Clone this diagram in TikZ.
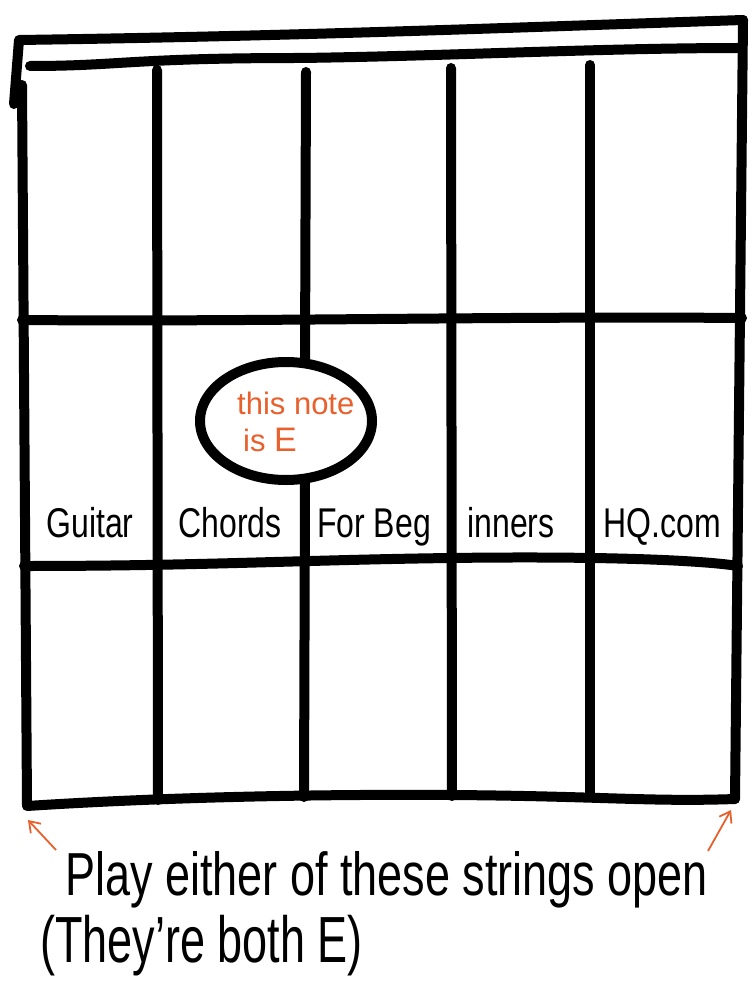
\documentclass[tikz,border=0pt]{standalone}
\usepackage{fontspec}
\setmainfont{Liberation Sans}
\usetikzlibrary{arrows.meta,shapes.geometric}
\definecolor{inkorange}{RGB}{232,96,44}
\tikzset{
  ink/.style={line width=10pt, line cap=round, line join=round, black},
  lbl/.style={font=\fontsize{32}{34}\selectfont, inner sep=0pt, anchor=base},
  note/.style={font=\fontsize{31}{33}\selectfont, text=inkorange, inner sep=0pt, anchor=base west},
  captext/.style={font=\fontsize{45}{48}\selectfont, inner sep=0pt, anchor=base west},
  pointer/.style={inkorange, line width=1.8pt, -{Straight Barb[length=10pt,width=14pt]}}
}
\begin{document}
\begin{tikzpicture}[x=1pt,y=-1pt]
\useasboundingbox (0,0) rectangle (752,981);
% nut
\draw[ink] (14,104) -- (19,40) .. controls (300,36) and (500,28) .. (743,20);
\draw[ink] (30,66) .. controls (120,66) and (130,58) .. (300,58) .. controls (450,56) and (600,48) .. (742,48);
% frame edges
\draw[ink] (22,85) -- (27,805);
\draw[ink] (743,20) -- (735,799);
% strings
\draw[ink] (157,70) -- (158,800);
\draw[ink] (306,72) -- (305,363);
\draw[ink] (305,480) -- (304,797);
\draw[ink] (451,68) -- (452,796);
\draw[ink] (590,65) -- (590,797);
% frets
\draw[ink] (22,320) .. controls (250,322) and (500,316) .. (742,318);
\draw[ink] (24,566) .. controls (200,566) and (300,560) .. (450,558) .. controls (600,556) and (700,560) .. (738,566);
\draw[ink] (27,806) .. controls (150,798) and (300,794) .. (450,795) .. controls (600,796) and (650,802) .. (735,799);
% circled note
\node[ink, draw, ellipse, fill=white, minimum width=172pt, minimum height=118pt, inner sep=0pt] (circ) at (286,421) {};
\node[note] (n1) at (237,414) {this note};
\node[note] (n2) at (243,451) {is \fontsize{34}{36}\selectfont E};
% label row
\node[lbl] (w1) at (90,537) {\scalebox{1}[1.3]{Guitar}};
\node[lbl] (w2) at (230,537) {\scalebox{1}[1.3]{Chords}};
\node[lbl] (w3) at (374,537) {\scalebox{1}[1.3]{For Beg}};
\node[lbl] (w4) at (511,537) {\scalebox{1}[1.3]{inners}};
\node[lbl] (w5) at (662,537) {\scalebox{1}[1.3]{HQ.com}};
% captions
\node[captext] (c1) at (65,895) {\scalebox{1}[1.35]{Play either of these strings open}};
\node[captext] (c2) at (40,962) {\scalebox{1}[1.45]{(They're both E)}};
% pointers
\coordinate (pl) at (56,850);
\coordinate (tl) at (28,820);
\coordinate (pr) at (708,851);
\coordinate (tr) at (731,810);
\draw[pointer] (pl) -- (tl);
\draw[pointer] (pr) -- (tr);
\end{tikzpicture}
\end{document}
